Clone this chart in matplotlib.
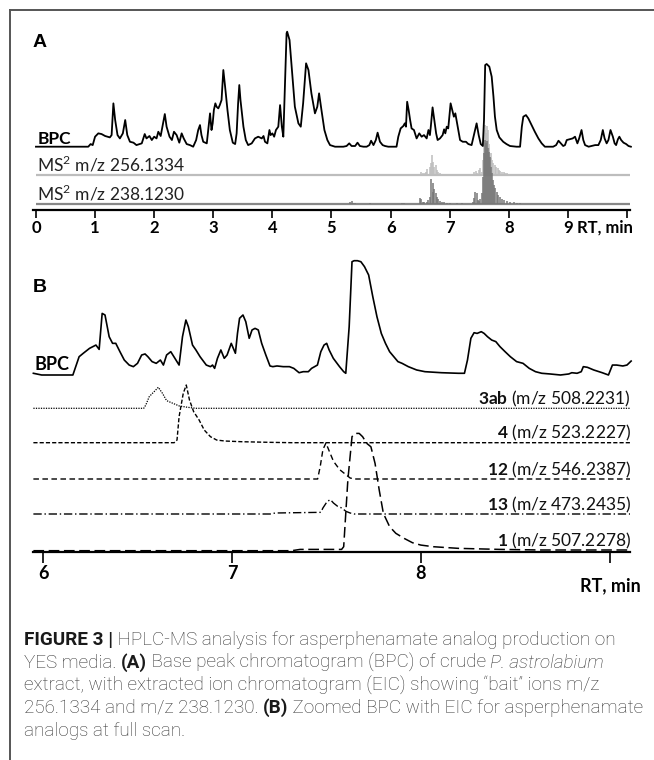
import matplotlib
matplotlib.use("Agg")
import matplotlib.pyplot as plt
from matplotlib.lines import Line2D

plt.rcParams['font.family'] = ['Lato', 'DejaVu Sans']
plt.rcParams['mathtext.fontset'] = 'custom'
plt.rcParams['mathtext.rm'] = 'Lato'
plt.rcParams['mathtext.bf'] = 'Lato:bold'

# ---------------- panel A data ----------------
# base peak chromatogram, retention time (min) / relative intensity (%)
bpc_a_rt = [0.00, 0.885, 0.925, 0.96, 1.00, 1.055, 1.11, 1.17, 1.25, 1.28, 1.31, 1.34, 1.38, 1.42,
            1.47, 1.51, 1.545, 1.59, 1.65, 1.70, 1.79, 1.84, 1.87, 1.92, 1.96, 2.00, 2.04, 2.07,
            2.11, 2.14, 2.18, 2.21, 2.26, 2.30, 2.335, 2.38, 2.425, 2.465, 2.50, 2.55, 2.605, 2.66,
            2.71, 2.745, 2.775, 2.80, 2.83, 2.89, 2.915, 2.945, 2.97, 2.99, 3.01, 3.035, 3.055,
            3.085, 3.11, 3.14, 3.17, 3.20, 3.24, 3.28, 3.33, 3.37, 3.395, 3.42, 3.44, 3.46, 3.51,
            3.55, 3.59, 3.65, 3.705, 3.76, 3.82, 3.85, 3.875, 3.915, 3.95, 3.97, 4.00, 4.03, 4.06,
            4.10, 4.13, 4.16, 4.185, 4.21, 4.24, 4.25, 4.29, 4.33, 4.38, 4.44, 4.48, 4.52, 4.57,
            4.61, 4.66, 4.72, 4.76, 4.79, 4.83, 4.88, 4.93, 4.975, 5.06,
            5.20, 5.255, 5.30, 5.34, 5.40, 5.44, 5.48, 5.54, 5.595, 5.64, 5.67, 5.71, 5.75, 5.78,
            5.82, 5.865, 5.905, 5.96, 6.10, 6.13, 6.17, 6.215, 6.24, 6.26, 6.28, 6.305, 6.33,
            6.355, 6.395, 6.44, 6.485, 6.525, 6.565, 6.61, 6.64, 6.665, 6.68, 6.71, 6.74, 6.77,
            6.795, 6.835, 6.88, 6.905, 6.925, 6.95, 6.975, 7.015, 7.05, 7.07, 7.095, 7.115, 7.145,
            7.175, 7.22, 7.275, 7.315, 7.37, 7.41, 7.455, 7.49, 7.525, 7.56, 7.58, 7.60, 7.625,
            7.67, 7.71, 7.74, 7.765, 7.795, 7.84, 7.905, 7.96, 8.02, 8.13, 8.19, 8.22, 8.245, 8.29,
            8.33, 8.385, 8.44, 8.50, 8.556, 8.61, 8.70, 8.75, 8.80, 8.84, 8.88, 8.92, 8.95, 8.98,
            9.02, 9.08, 9.12, 9.16, 9.19, 9.23, 9.26, 9.29, 9.35, 9.40, 9.46, 9.515, 9.555, 9.59,
            9.62, 9.655, 9.685, 9.72, 9.76, 9.79, 9.815, 9.845, 9.87, 9.90, 9.94, 9.985, 10.025,
            10.065]
bpc_a_int = [0, 0, 2.3, 1.4, 8.7, 11.6, 11.0, 9.3, 8.1, 10.1, 37.7, 23.2, 10.1, 7.2,
             11.6, 23.2, 10.1, 4.3, 3.5, 1.4, 2.9, 11.0, 7.2, 9.3, 5.8, 8.7, 7.2, 13.0,
             9.3, 17.4, 28.4, 17.4, 8.7, 5.8, 13.0, 10.1, 3.5, 11.6, 7.2, 2.3, 1.4, 0,
             5.8, 14.5, 18.8, 10.1, 4.3, 2.9, 14.5, 29.0, 14.5, 20.3, 31.9, 37.7, 34.8,
             33.3, 36.2, 40.6, 66.7, 52.2, 31.9, 14.5, 3.5, 2.3, 11.6, 37.7, 53.6, 40.6, 17.4,
             5.8, 1.4, 2.9, 7.2, 8.7, 7.2, 9.3, 4.3, 2.9, 14.5, 10.1, 11.6, 8.7, 14.5,
             17.4, 36.2, 17.4, 8.7, 49.3, 98.6, 100, 92.8, 66.7, 34.8, 20.3, 17.4, 37.7, 72.5,
             66.7, 46.4, 29.0, 34.8, 46.4, 31.9, 14.5, 5.8, 1.4, 0,
             0, 0.6, 2.9, 0.6, 0.6, 3.5, 0.6, 0, 0, 1.4, 5.2, 1.4, 5.8, 12.2,
             4.3, 1.4, 0.6, 0, 0, 8.7, 15.9, 18.0, 20.3, 17.4, 39.1, 31.9, 23.2,
             15.9, 14.5, 7.2, 11.6, 8.7, 10.1, 7.2, 14.5, 10.1, 17.4, 34.2, 23.2, 11.6,
             5.8, 7.2, 10.1, 15.1, 11.6, 17.4, 15.9, 37.7, 30.4, 26.1, 29.0, 23.2, 14.5,
             5.8, 4.3, 4.3, 2.3, 1.4, 10.1, 20.3, 10.1, 2.3, 0.6, 23.2, 71.0, 71.9,
             69.6, 60.9, 43.5, 26.1, 14.5, 8.1, 4.3, 2.3, 0.6, 0, 0, 17.4, 26.1, 27.5,
             24.6, 18.8, 13.0, 7.2, 2.9, 0, 0, 0, 1.4, 5.2, 2.9, 0.6, 1.4, 5.8,
             6.4, 7.2, 8.7, 2.9, 7.2, 14.5, 5.8, 1.4, 0, 0.6, 1.4, 1.4, 5.8, 14.5,
             7.2, 2.9, 5.8, 14.5, 8.7, 2.9, 1.4, 6.4, 8.7, 5.8, 3.5, 2.3, 0.6,
             0]

# MS2 fragment traces (stick data), relative abundance (%)
ms256_rt = [1.35, 5.31, 5.64, 6.52, 6.55, 6.58, 6.60, 6.62, 6.66, 6.68, 6.70, 6.72, 6.73, 6.76,
            6.78, 6.81, 6.84, 6.87, 6.90, 7.41, 7.44, 7.47, 7.50, 7.52, 7.55, 7.56, 7.58, 7.59,
            7.60, 7.615, 7.63, 7.64, 7.65, 7.66, 7.67, 7.69, 7.70, 7.72, 7.74, 7.76, 7.78, 7.81,
            7.83, 7.85, 7.88, 7.91, 7.94, 7.97, 8.02, 8.08, 8.13, 8.19]
ms256_int = [1.3, 2.0, 1.3, 7.3, 5.3, 4.0, 7.3, 11.9, 17.2, 23.8, 40.4, 27.2, 17.2, 20.5,
             10.6, 7.3, 5.3, 2.6, 1.3, 7.3, 9.3, 5.3, 10.6, 13.9, 7.3, 30.5, 80.1, 90.1,
             100, 83.4, 98.0, 70.2, 90.1, 62.3, 53.6, 43.7, 33.8, 30.5, 23.8, 20.5, 17.2, 13.9,
             10.6, 9.3, 7.3, 6.6, 5.3, 4.0, 3.3, 2.6, 2.0, 1.3]

ms238_rt = [5.32, 5.35, 5.37, 5.40, 5.65, 6.19, 6.23, 6.50, 6.52, 6.54, 6.57, 6.61, 6.64, 6.67,
            6.69, 6.71, 6.72, 6.74, 6.76, 6.78, 6.81, 6.84, 6.87, 6.90, 6.95, 7.00, 7.12, 7.20,
            7.39, 7.41, 7.43, 7.46, 7.48, 7.50, 7.52, 7.55, 7.56, 7.58, 7.60, 7.615, 7.63, 7.65,
            7.67, 7.68, 7.70, 7.72, 7.73, 7.75, 7.77, 7.80, 7.82, 7.85, 7.89, 7.92, 7.97, 8.02,
            8.08, 8.13, 8.19]
ms238_int = [4.1, 5.2, 2.6, 2.1, 1.6, 1.6, 2.1, 10.4, 7.8, 4.1, 3.1, 4.1, 6.7, 11.9,
             38.9, 32.6, 19.7, 23.3, 17.1, 11.9, 7.8, 5.7, 4.1, 3.1, 2.1, 1.6, 1.6, 1.6,
             4.1, 9.3, 19.7, 17.1, 6.7, 5.2, 7.8, 17.1, 43.0, 79.3, 100, 94.8, 99.0, 87.0,
             81.9, 74.1, 58.5, 48.2, 37.8, 30.1, 24.9, 19.7, 14.5, 10.9, 7.8, 6.7, 5.7, 4.1,
             3.1, 2.1, 1.6]

a_ticks = list(range(11))
a_tick_labels = ['0', '1', '2', '3', '4', '5', '6', '7', '8', '9', '']

# ---------------- panel B data ----------------
bpc_b_rt = [5.949, 5.993, 6.059, 6.125, 6.158, 6.191, 6.213, 6.246, 6.280, 6.297, 6.313, 6.328,
            6.350, 6.368, 6.385, 6.407, 6.430, 6.456, 6.478, 6.500, 6.522, 6.540, 6.555, 6.577,
            6.599, 6.621, 6.637, 6.654, 6.676, 6.698, 6.720, 6.738, 6.756, 6.769, 6.791, 6.809,
            6.831, 6.864, 6.886, 6.897, 6.908, 6.923, 6.941, 6.959, 6.974, 6.996, 7.007, 7.018,
            7.029, 7.040, 7.058, 7.073, 7.091, 7.106, 7.122, 7.139, 7.157, 7.179, 7.201, 7.216,
            7.238, 7.271, 7.304, 7.327, 7.355, 7.377, 7.404, 7.421, 7.437, 7.452, 7.470, 7.487,
            7.501, 7.514, 7.536, 7.569, 7.591, 7.602, 7.620, 7.635, 7.646, 7.664, 7.682, 7.701,
            7.723, 7.745, 7.767, 7.790, 7.812, 7.834, 7.856, 7.878, 7.900, 7.933, 7.977, 8.021,
            8.109, 8.198, 8.230, 8.246, 8.264, 8.281, 8.297, 8.319, 8.334, 8.352, 8.374, 8.396,
            8.418, 8.445, 8.473, 8.506, 8.540, 8.573, 8.606, 8.639, 8.683, 8.738, 8.782, 8.798,
            8.826, 8.848, 8.859, 8.881, 8.914, 8.959, 8.992, 9.013, 9.035, 9.068, 9.090, 9.112]
bpc_b_int = [1.5, 0, 0, 0, 0, 16.0, 19.0, 23.3, 26.2, 22.4, 53.9, 52.5,
             33.5, 27.7, 27.7, 20.4, 13.1, 8.7, 7.3, 10.2, 17.5, 18.4, 16.0, 11.7,
             10.2, 13.1, 8.7, 17.5, 20.4, 14.6, 8.7, 33.5, 48.1, 42.3, 26.2, 21.9,
             16.0, 8.7, 7.3, 8.7, 5.8, 14.6, 21.9, 14.6, 17.5, 27.7, 23.3, 19.0,
             36.4, 49.6, 52.5, 46.6, 32.1, 39.4, 40.8, 39.4, 27.7, 17.5, 7.9, 7.3,
             7.9, 7.3, 7.3, 5.8, 2.0, 2.9, 2.9, 5.8, 7.3, 8.7, 20.4, 26.2,
             27.7, 21.9, 14.6, 7.3, 2.9, 1.5, 42.3, 99.1, 100, 100, 99.1, 94.8,
             87.5, 68.5, 51.0, 36.4, 27.7, 20.4, 16.0, 11.7, 10.2, 7.3, 4.4, 2.9,
             2.0, 1.5, 1.5, 13.1, 32.1, 37.0, 36.4, 37.9, 36.4, 33.5, 30.6, 29.2,
             24.8, 20.4, 16.0, 11.7, 10.2, 5.8, 2.9, 1.5, 0.9, 0, 0.9, 2.0,
             1.5, 2.9, 7.3, 6.7, 4.4, 2.0, 0, 8.7, 8.7, 7.9, 8.7, 12.2]

# extracted ion chromatograms, relative intensity (% of each trace maximum)
eic_3ab_rt = [5.949, 6.533, 6.544, 6.562, 6.588, 6.610, 6.632, 6.654, 6.687, 6.721, 6.765, 6.809, 9.106]
eic_3ab_int = [0, 0, 15.9, 55.6, 79.4, 100, 71.4, 36.5, 23.8, 11.1, 4.8, 0, 0]
eic_4_rt = [5.949, 6.694, 6.709, 6.720, 6.742, 6.758, 6.775, 6.797, 6.826, 6.853, 6.886, 6.919,
            6.963, 7.051, 7.206, 7.316, 9.106]
eic_4_int = [0, 0, 4.6, 45.0, 85.5, 100, 74.0, 53.8, 39.3, 22.0, 10.4, 4.6, 2.9, 1.7, 0.6, 0, 0]
eic_12_rt = [5.949, 7.453, 7.467, 7.481, 7.497, 7.515, 7.537, 7.570, 7.603, 7.625, 7.647, 9.106]
eic_12_int = [0, 0, 35.2, 81.5, 100, 76.9, 49.1, 25.9, 12.0, 2.8, 0, 0]
eic_13_rt = [5.949, 7.206, 7.228, 7.470, 7.481, 7.504, 7.521, 7.537, 7.559, 7.581, 7.603, 7.625,
             7.647, 9.106]
eic_13_int = [0, 0, 7.0, 11.6, 41.9, 88.4, 100, 76.7, 53.5, 41.9, 18.6, 7.0, 0, 0]
eic_1_rt = [5.949, 7.316, 7.360, 7.580, 7.591, 7.613, 7.635, 7.651, 7.673, 7.691, 7.713, 7.735,
            7.757, 7.779, 7.801, 7.834, 7.867, 7.911, 7.955, 7.999, 8.065, 8.198, 8.418, 8.639, 9.106]
eic_1_int = [0, 0, 1.1, 1.1, 3.4, 60.2, 97.2, 100, 100, 97.2, 91.5, 88.6,
             74.4, 51.7, 31.8, 20.5, 14.8, 10.5, 6.8, 4.8, 3.4, 2.0, 1.1, 0.6, 0.6]

eic_ids = ['3ab', '4', '12', '13', '1']
eic_mz = ['508.2231', '523.2227', '546.2387', '473.2435', '507.2278']
b_ticks = [6, 7, 8, 9]
b_tick_labels = ['6', '7', '8', '']

# ---------------- figure ----------------
W, H = 654, 760
fig = plt.figure(figsize=(W / 100, H / 100), dpi=100)


def box(left, top, right, bottom):
    return [left / W, 1 - bottom / H, (right - left) / W, (bottom - top) / H]


# frame around the figure panels
fig.add_artist(Line2D([10 / W, 1], [1 - 10 / H, 1 - 10 / H], color='#555555', lw=1.4))
fig.add_artist(Line2D([10 / W, 10 / W], [0, 1 - 10 / H], color='#555555', lw=1.4))

# ---- panel A ----
ax_a = fig.add_axes(box(33, 20, 630, 210))
ax_a.set_xlim(-0.05, 10.05)
ax_a.set_ylim(0, 190)
ax_a.patch.set_visible(False)
for s in ['top', 'right', 'left']:
    ax_a.spines[s].set_visible(False)
ax_a.spines['bottom'].set_linewidth(1.6)
ax_a.set_yticks([])
ax_a.set_xticks(a_ticks)
ax_a.set_xticklabels(a_tick_labels, fontweight='bold', fontsize=12)
ax_a.tick_params(axis='x', direction='out', length=5.8, width=1.2, pad=1.2)

base_bpc_a, sc_bpc_a = 63.3, 1.15
base_256, h_256 = 34.7, 50.3
base_238, h_238 = 5.7, 64.3

ax_a.hlines(base_256, 0, 10.05, color='#bdbdbd', lw=1.6, zorder=1)
ax_a.vlines(ms256_rt, base_256, [base_256 + v * h_256 / 100 for v in ms256_int],
            color='#bdbdbd', lw=1.1, zorder=1)
ax_a.hlines(base_238, 0, 10.05, color='#888888', lw=1.6, zorder=2)
ax_a.vlines(ms238_rt, base_238, [base_238 + v * h_238 / 100 for v in ms238_int],
            color='#777777', lw=1.1, zorder=2)
ax_a.plot(bpc_a_rt, [base_bpc_a + v * sc_bpc_a for v in bpc_a_int], color='black', lw=1.3,
          zorder=3, clip_on=False)

ax_a.text(0.02, base_bpc_a + 2.8, 'BPC', fontweight='bold', fontsize=12.5, ha='left', va='baseline')
ax_a.text(0.02, base_256 + 3.5, r'MS$^{2}$ m/z 256.1334', fontsize=12.5, ha='left',
          va='baseline', color='#222222')
ax_a.text(0.02, base_238 + 3.5, r'MS$^{2}$ m/z 238.1230', fontsize=12.5, ha='left',
          va='baseline', color='#222222')
ax_a.annotate('RT, min', xy=(9.15, 0), xycoords=('data', 'axes fraction'),
              xytext=(0, -7.0), textcoords='offset points', ha='left', va='top',
              fontweight='bold', fontsize=12)
fig.text(33 / W, 1 - 47 / H, 'A', fontsize=14, fontweight='bold', family='Liberation Sans',
         ha='left', va='baseline')

# ---- panel B ----
ax_b = fig.add_axes(box(33, 250, 630, 552))
ax_b.set_xlim(5.947, 9.106)
ax_b.set_ylim(0, 302)
ax_b.patch.set_visible(False)
for s in ['top', 'right', 'left']:
    ax_b.spines[s].set_visible(False)
ax_b.spines['bottom'].set_linewidth(1.6)
ax_b.set_yticks([])
ax_b.set_xticks(b_ticks)
ax_b.set_xticklabels(b_tick_labels, fontweight='bold', fontsize=13)
ax_b.tick_params(axis='x', direction='out', length=7.9, width=1.2, pad=1.5)

base_bpc_b, sc_bpc_b = 177, 1.143
ax_b.plot(bpc_b_rt, [base_bpc_b + v * sc_bpc_b for v in bpc_b_int], color='black', lw=1.2,
          clip_on=False)
ax_b.text(5.955, base_bpc_b + 4.5, 'BPC', fontweight='bold', fontsize=13, ha='left', va='baseline')

eic_rt = [eic_3ab_rt, eic_4_rt, eic_12_rt, eic_13_rt, eic_1_rt]
eic_int = [eic_3ab_int, eic_4_int, eic_12_int, eic_13_int, eic_1_int]
eic_base = [143.7, 109.3, 73, 38, 1.3]
eic_height = [21, 57.7, 36, 14.3, 117.3]
eic_style = [(0, (1, 1)), (0, (3, 1.5)), (0, (4, 2.5)), (0, (6, 2, 1, 2)), (0, (7, 3))]
eic_lw = [0.9, 1.0, 1.0, 1.0, 1.1]
for rt, iv, b0, hh, ls, lw, cid, mz in zip(eic_rt, eic_int, eic_base, eic_height, eic_style,
                                           eic_lw, eic_ids, eic_mz):
    ax_b.plot(rt, [b0 + v * hh / 100 for v in iv], color='black', lw=lw, linestyle=ls,
              clip_on=False)
    ax_b.text(9.11, b0 + 4, r'$\mathbf{' + cid + '}$ (m/z ' + mz + ')', fontsize=12.5,
              ha='right', va='baseline', color='#111111')

ax_b.annotate('RT, min', xy=(9.106, 0), xycoords=('data', 'axes fraction'),
              xytext=(8, -18.5), textcoords='offset points', ha='right', va='top',
              fontweight='bold', fontsize=13)
fig.text(33 / W, 1 - 292 / H, 'B', fontsize=14, fontweight='bold', family='Liberation Sans',
         ha='left', va='baseline')

# ---- caption ----
cap_lines = [
    [('FIGURE 3 |', 'bold'), (' HPLC-MS analysis for asperphenamate analog production on', 'normal')],
    [('YES media. ', 'normal'), ('(A)', 'bold'), (' Base peak chromatogram (BPC) of crude ', 'normal'),
     ('P. astrolabium', 'italic')],
    [('extract, with extracted ion chromatogram (EIC) showing \u201cbait\u201d ions m/z', 'normal')],
    [('256.1334 and m/z 238.1230. ', 'normal'), ('(B)', 'bold'),
     (' Zoomed BPC with EIC for asperphenamate', 'normal')],
    [('analogs at full scan.', 'normal')],
]
cap_baselines = [645, 668, 691, 713, 736]
cap_left = 24
cap_width = 617
cap_family = 'Roboto'

renderer = fig.canvas.get_renderer()


def cap_kw(style, size):
    kw = dict(fontsize=size, family=cap_family, fontweight='light', color='#333333')
    if style == 'bold':
        kw['fontweight'] = 'bold'
        kw['color'] = '#1a1a1a'
    if style == 'italic':
        kw['fontstyle'] = 'italic'
    return kw


def seg_width(txt, style, size):
    kw = cap_kw(style, size)
    t1 = fig.text(0, 0, 'x' + txt + 'x', **kw)
    t2 = fig.text(0, 0, 'xx', **kw)
    w = t1.get_window_extent(renderer).width - t2.get_window_extent(renderer).width
    t1.remove()
    t2.remove()
    return w


ref_w = sum(seg_width(t, s, 10) for t, s in cap_lines[3])
cap_size = 10 * cap_width / ref_w

for line, yb in zip(cap_lines, cap_baselines):
    x = cap_left
    for txt, style in line:
        fig.text(x / W, 1 - yb / H, txt, ha='left', va='baseline', **cap_kw(style, cap_size))
        x += seg_width(txt, style, cap_size)

fig.savefig('out.png', dpi=100)
